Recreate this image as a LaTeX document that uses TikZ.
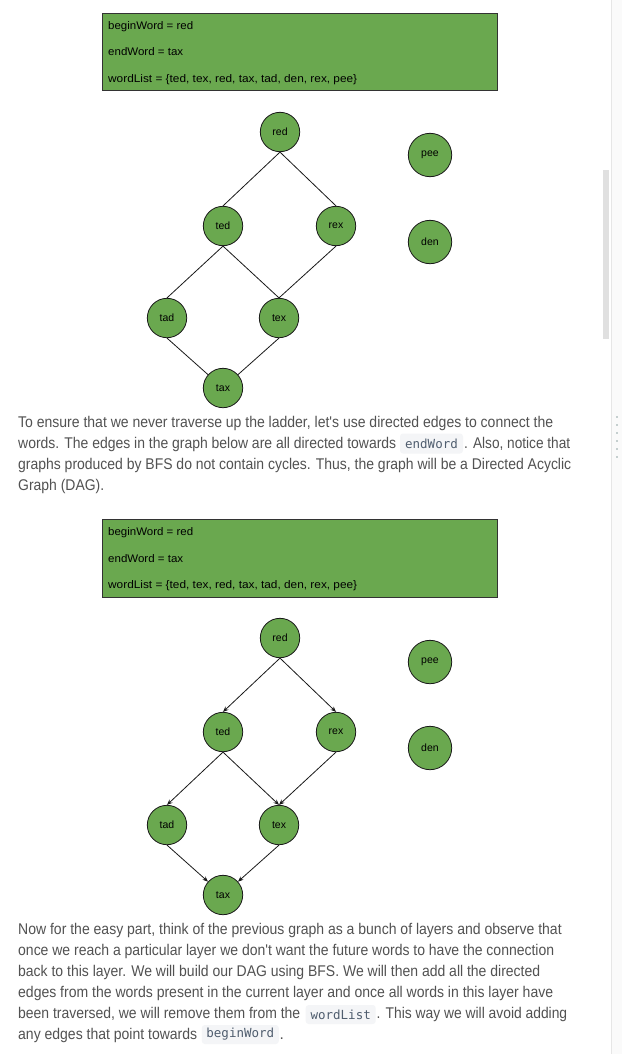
\documentclass[tikz,border=0pt]{standalone}
\usepackage{fontspec}
\usepackage{graphicx}
\setmainfont{Liberation Sans}
\newfontfamily\codefont{DejaVu Sans Mono}
\usetikzlibrary{arrows.meta}
\definecolor{gfill}{HTML}{6AA84F}
\definecolor{txt}{HTML}{525252}
\definecolor{codebg}{HTML}{F4F5F7}
\definecolor{codefg}{HTML}{4F5D6E}
\definecolor{panel}{HTML}{FAFAFA}
\definecolor{sepline}{HTML}{E6E6E6}
\definecolor{thumb}{HTML}{E0E0E0}
\definecolor{dotc}{HTML}{C5CFCF}
\newcommand\fitw[2]{\resizebox{#1pt}{\height}{#2}}
\tikzset{
  word/.style={circle,draw=black!90,line width=0.8pt,fill=gfill,minimum size=39.4pt,inner sep=0pt,font=\fontsize{10.5}{12}\selectfont},
  wordbig/.style={word,minimum size=43.4pt},
  infobox/.style={draw=black!80,line width=1pt,fill=gfill},
  boxtext/.style={anchor=base west,inner sep=0pt,font=\fontsize{11}{13}\selectfont},
  ptext/.style={anchor=base west,inner sep=0pt,text=txt,font=\fontsize{15.5}{18}\selectfont},
  codebox/.style={fill=codebg,rounded corners=3pt,inner sep=0pt},
  codetext/.style={inner sep=0pt,text=codefg,font=\codefont\fontsize{12.5}{14}\selectfont},
  link/.style={draw=black!90,line width=0.8pt},
  arc/.style={link,-{Stealth[length=5.5pt,width=4.5pt]}}
}
\begin{document}
\begin{tikzpicture}[x=1pt,y=-1pt]
\fill[white] (0,0) rectangle (622,1054);
\useasboundingbox (0,0) rectangle (622,1054);
% right panel and scrollbar
\fill[panel] (611.5,0) rectangle (622,1054);
\draw[sepline,line width=1pt] (611.5,0) -- (611.5,1054);
\fill[thumb] (603,170) rectangle (609,339);
\foreach \yy in {417,425,433,441,449,457}
  \fill[dotc] (616.3,\yy-0.8) rectangle (618,\yy+0.8);

% ---------- first box ----------
\node[infobox,minimum width=395pt,minimum height=77pt,anchor=north west] (boxa) at (102,13) {};
\node[boxtext] (a-l1) at (108,29.5) {\fitw{85}{beginWord = red}};
\node[boxtext] (a-l2) at (108,56) {\fitw{75}{endWord = tax}};
\node[boxtext] (a-l3) at (108,82.5) {\fitw{249}{wordList = \{ted, tex, red, tax, tad, den, rex, pee\}}};

% ---------- first graph ----------
\node[word] (a-red) at (280,132) {red};
\node[word] (a-ted) at (223,226) {ted};
\node[word] (a-rex) at (336,226) {rex};
\node[word] (a-tad) at (167,318) {tad};
\node[word] (a-tex) at (279,318) {tex};
\node[word] (a-tax) at (223,388) {tax};
\node[wordbig] (a-pee) at (430,155) {pee};
\node[wordbig] (a-den) at (430,242) {den};
\draw[link] (a-red.south) -- (a-ted.north);
\draw[link] (a-red.south) -- (a-rex.north);
\draw[link] (a-ted.south) -- (a-tad.north);
\draw[link] (a-ted.south) -- (a-tex.north);
\draw[link] (a-rex.south) -- (a-tex.north);
\draw[link] (a-tad.south) -- (a-tax);
\draw[link] (a-tex.south) -- (a-tax);

% ---------- paragraph 1 ----------
\node[ptext] (p1l1) at (18,427) {\fitw{535}{To ensure that we never traverse up the ladder, let\textquotesingle s use directed edges to connect the}};
\node[ptext] (p1l2a) at (18,448) {\fitw{378}{words. The edges in the graph below are all directed towards}};
\node[codebox,minimum width=63pt,minimum height=20pt] (c1) at (431.5,443.5) {};
\node[codetext] (c1t) at (c1) {endWord};
\node[ptext] (p1l2b) at (464,448) {\fitw{106}{. Also, notice that}};
\node[ptext] (p1l3) at (18,469) {\fitw{553}{graphs produced by BFS do not contain cycles. Thus, the graph will be a Directed Acyclic}};
\node[ptext] (p1l4) at (18,490) {\fitw{86}{Graph (DAG).}};

% ---------- second box ----------
\node[infobox,minimum width=395pt,minimum height=78pt,anchor=north west] (boxb) at (102,519) {};
\node[boxtext] (b-l1) at (108,535.5) {\fitw{85}{beginWord = red}};
\node[boxtext] (b-l2) at (108,562) {\fitw{75}{endWord = tax}};
\node[boxtext] (b-l3) at (108,588.5) {\fitw{249}{wordList = \{ted, tex, red, tax, tad, den, rex, pee\}}};

% ---------- second graph (DAG) ----------
\node[word] (b-red) at (280,638) {red};
\node[word] (b-ted) at (223,732) {ted};
\node[word] (b-rex) at (336,732) {rex};
\node[word] (b-tad) at (167,825) {tad};
\node[word] (b-tex) at (279,825) {tex};
\node[word] (b-tax) at (223,895) {tax};
\node[wordbig] (b-pee) at (430,662) {pee};
\node[wordbig] (b-den) at (430,748) {den};
\draw[arc] (b-red.south) -- (b-ted.north);
\draw[arc] (b-red.south) -- (b-rex.north);
\draw[arc] (b-ted.south) -- (b-tad.north);
\draw[arc] (b-ted.south) -- (b-tex.north);
\draw[arc] (b-rex.south) -- (b-tex.north);
\draw[arc] (b-tad.south) -- (b-tax);
\draw[arc] (b-tex.south) -- (b-tax);

% ---------- paragraph 2 ----------
\node[ptext] (p2l1) at (18,934) {\fitw{543.5}{Now for the easy part, think of the previous graph as a bunch of layers and observe that}};
\node[ptext] (p2l2) at (18,955) {\fitw{536}{once we reach a particular layer we don\textquotesingle t want the future words to have the connection}};
\node[ptext] (p2l3) at (18,976) {\fitw{522}{back to this layer. We will build our DAG using BFS. We will then add all the directed}};
\node[ptext] (p2l4) at (18,997) {\fitw{535}{edges from the words present in the current layer and once all words in this layer have}};
\node[ptext] (p2l5a) at (18,1018) {\fitw{282}{been traversed, we will remove them from the}};
\node[codebox,minimum width=70pt,minimum height=19pt] (c2) at (340.7,1014.5) {};
\node[codetext] (c2t) at (c2) {wordList};
\node[ptext] (p2l5b) at (376.5,1018) {\fitw{190.5}{. This way we will avoid adding}};
\node[ptext] (p2l6a) at (18,1039) {\fitw{179}{any edges that point towards}};
\node[codebox,minimum width=77pt,minimum height=19pt] (c3) at (240.3,1034.5) {};
\node[codetext] (c3t) at (c3) {beginWord};
\node[ptext] (p2l6b) at (279.5,1039) {.};
\end{tikzpicture}
\end{document}
